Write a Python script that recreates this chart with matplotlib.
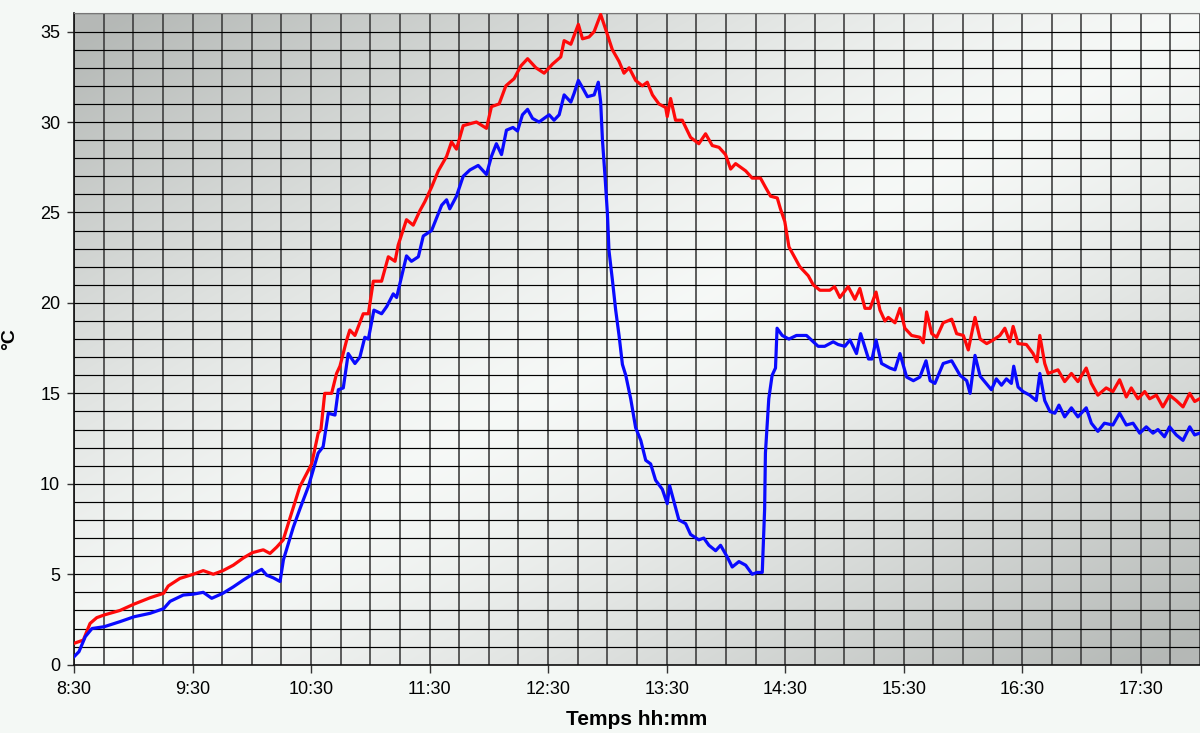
import numpy as np
import matplotlib
matplotlib.use("Agg")
import matplotlib.pyplot as plt

# ---- data (minutes after 8:30, temperature in °C) ----
red_t = [0, 4.7, 8.1, 11.5, 15.3, 23.3, 30.4, 38.5, 45.4, 47.7, 53.6, 60.4, 65.4, 70.5, 75.4,
         80.6, 85.7, 90.4, 95.8, 99.2, 102.6, 105.9, 109.3, 114.3, 120.3, 123.6, 125, 126.9,
         130.4, 132.9, 134.6, 137.9, 139.6, 142.2, 146.4, 149, 151.5, 155.7, 159.1, 162.5,
         164.1, 168.3, 171.7, 175.1, 177.6, 181, 184.4, 188.6, 191.1, 193.6, 197, 203.7,
         208.8, 211.3, 215.2, 218.6, 222.8, 226.2, 229.6, 233.8, 238, 242.2, 246.4, 248.1,
         251.5, 255.3, 257.4, 260.7, 263.3, 266.6, 269.2, 272.5, 275.9, 278.4, 281, 284.3,
         287.7, 290.2, 292.8, 296.1, 299.5, 300.3, 302, 304.5, 307.9, 312.1, 316.3, 319.7,
         323.1, 326.5, 329.8, 332.4, 334.9, 340, 343.3, 347.5, 350, 352.6, 356, 357.6, 359.8,
         361.9, 364.4, 367.4, 371.7, 374.2, 377.6, 382.6, 385, 387.7, 391.9, 395.3, 397.8,
         400.4, 403, 406, 408, 410.5, 412.2, 415.6, 418.1, 420.6, 424, 428.2, 429.9, 431.6,
         434.2, 436.7, 440, 444.3, 446.8, 450.2, 452.7, 456.1, 458.7, 462, 465.3, 468.7,
         471.2, 473.7, 475.4, 477.9, 482.1, 485.5, 487.5, 488.9, 491.4, 493.1, 498.1, 501.5,
         504.9, 508.2, 512.4, 515, 518.3, 522.5, 525.9, 529.3, 532.7, 535.2, 538.6, 542,
         544.5, 547.9, 551.2, 554.6, 558, 561.4, 564.8, 567.3, 569.8]
red_v = [1.18, 1.36, 2.28, 2.6, 2.75, 3.0, 3.35, 3.7, 3.95, 4.35, 4.77, 5.0, 5.2, 5.0, 5.2,
         5.5, 5.9, 6.2, 6.35, 6.15, 6.5, 6.9, 8.1, 9.84, 11.1, 12.8, 13.0, 15.0,
         15.0, 16.1, 16.5, 17.9, 18.5, 18.2, 19.4, 19.4, 21.2, 21.2, 22.55, 22.3,
         23.2, 24.6, 24.3, 25.1, 25.6, 26.4, 27.3, 28.1, 28.9, 28.5, 29.8, 30.0,
         29.65, 30.85, 31.0, 32.0, 32.4, 33.1, 33.5, 33.0, 32.7, 33.2, 33.6, 34.5,
         34.3, 35.4, 34.6, 34.7, 35.0, 35.95, 35.1, 34.0, 33.35, 32.7, 33.0, 32.3,
         32.0, 32.2, 31.5, 31.0, 30.8, 30.3, 31.3, 30.1, 30.1, 29.15, 28.8, 29.35,
         28.7, 28.6, 28.2, 27.4, 27.7, 27.3, 26.9, 26.9, 26.4, 25.9, 25.8, 25.2, 24.5,
         23.1, 22.6, 22.0, 21.5, 21.0, 20.7, 20.7, 20.9, 20.3, 20.9, 20.2, 20.8,
         19.7, 19.7, 20.6, 19.6, 19.0, 19.2, 18.9, 19.7, 18.6, 18.2, 18.1, 17.8, 19.5,
         18.3, 18.1, 18.9, 19.1, 18.3, 18.2, 17.4, 19.2, 18.0, 17.75, 17.95, 18.2,
         18.6, 17.85, 18.7, 17.75, 17.7, 17.2, 16.75, 18.2, 16.65, 16.1, 16.3, 15.65,
         16.1, 15.65, 16.4, 15.55, 14.9, 15.3, 15.1, 15.75, 14.8, 15.3, 14.7, 15.1,
         14.7, 14.9, 14.25, 14.9, 14.6, 14.25, 15.0, 14.55, 14.7]

blue_t = [0, 2.5, 5.7, 9.1, 15.3, 23.3, 30.4, 38.5, 45.4, 48.6, 55.3, 60.4, 65.4, 69.7, 75.4,
          80.6, 85.7, 90.4, 95, 97.5, 100.9, 104.3, 106, 108.5, 111, 114.3, 118.6, 123.6,
          126.1, 128.7, 132.1, 133.8, 136.3, 138.8, 142.2, 144.7, 147.2, 149, 151.8, 155.7,
          158.3, 161.6, 163.3, 168.3, 170.8, 174.3, 176.8, 181, 186.1, 188.6, 190.2, 193.6,
          197, 200.4, 204.6, 208.8, 211.3, 213.8, 216.4, 218.9, 222.2, 224.5, 227, 229.6,
          232.1, 235.4, 240.5, 243, 245.6, 248.1, 251.5, 253.2, 255.3, 257.4, 259.9, 263.3,
          265.4, 266.6, 267.5, 268.8, 270, 270.8, 272.5, 274.2, 275.9, 277.6, 279.3, 281.8,
          284.3, 286.9, 289.4, 291.9, 294.4, 297.8, 300.3, 301.5, 303.7, 306.2, 309.6, 312.1,
          316.3, 318.8, 321.4, 324.8, 327.3, 330.7, 333.2, 336.6, 340, 343.3, 345.8, 348.4,
          349.6, 350, 351.7, 353.4, 355.1, 355.9, 358.5, 361.9, 365.7, 370.8, 374.2, 376.7,
          380, 384.3, 386.8, 390.2, 392.8, 396.1, 398.2, 402.2, 404, 406, 408.8, 413, 415.6,
          418.1, 421.5, 424.9, 428.2, 431.3, 433.4, 435.8, 440, 444.3, 448.5, 451.9, 453.6,
          456.1, 458.7, 461, 464.4, 466.9, 469.5, 472, 474.5, 475.7, 477.9, 480.4, 483.8,
          487.1, 488.9, 491.4, 494, 496.5, 498.6, 501.5, 504.9, 508.2, 512.4, 515, 518.3,
          521.6, 525.9, 529.3, 532.7, 536.1, 539.5, 542.8, 546.2, 548.7, 552, 554.6, 558,
          561.4, 564.8, 567.3, 569.8]
blue_v = [0.44, 0.72, 1.55, 2.0, 2.1, 2.38, 2.65, 2.84, 3.1, 3.5, 3.85, 3.9, 4.0, 3.67, 3.95,
          4.3, 4.68, 5.0, 5.27, 4.95, 4.8, 4.6, 5.8, 6.7, 7.6, 8.6, 9.84, 11.7,
          12.05, 13.9, 13.8, 15.2, 15.3, 17.2, 16.65, 17.0, 18.1, 18.0, 19.6, 19.4,
          19.8, 20.5, 20.3, 22.6, 22.3, 22.55, 23.7, 24.0, 25.4, 25.7, 25.2, 25.9,
          27.0, 27.35, 27.6, 27.1, 28.1, 28.8, 28.2, 29.55, 29.7, 29.5, 30.4, 30.7,
          30.2, 30.0, 30.4, 30.1, 30.4, 31.5, 31.1, 31.6, 32.3, 31.9, 31.4, 31.5,
          32.2, 31.1, 29.0, 27.0, 24.95, 22.9, 21.3, 19.6, 18.2, 16.6, 16.0, 14.7,
          13.1, 12.4, 11.3, 11.1, 10.2, 9.7, 8.9, 9.9, 9.0, 8.0, 7.8, 7.2,
          6.9, 7.0, 6.6, 6.3, 6.6, 5.95, 5.4, 5.7, 5.5, 5.0, 5.1, 5.1,
          8.6, 11.7, 14.7, 16.0, 16.4, 18.6, 18.2, 18.0, 18.2, 18.2, 17.85, 17.6,
          17.6, 17.85, 17.7, 17.6, 17.95, 17.2, 18.3, 16.9, 16.9, 17.95, 16.65, 16.4, 16.3,
          17.2, 15.9, 15.7, 15.9, 16.8, 15.7, 15.55, 16.65, 16.8, 16.0, 15.7, 15.0,
          17.1, 15.95, 15.65, 15.2, 15.8, 15.45, 15.8, 15.55, 16.5, 15.35, 15.1, 14.9,
          14.6, 16.1, 14.6, 14.0, 13.9, 14.35, 13.7, 14.2, 13.7, 14.2, 13.35, 12.9,
          13.35, 13.25, 13.9, 13.25, 13.35, 12.8, 13.15, 12.8, 13.0, 12.6, 13.15, 12.7,
          12.4, 13.15, 12.7, 12.8]

x_tick_labels = ["8:30", "9:30", "10:30", "11:30", "12:30", "13:30", "14:30", "15:30",
                 "16:30", "17:30"]
y_ticks = [0, 5, 10, 15, 20, 25, 30, 35]

START = 8.5  # 8:30 in hours

plt.rcParams['font.family'] = ['Liberation Sans', 'DejaVu Sans']

fig = plt.figure(figsize=(12, 7.33), dpi=100, facecolor='#f4f8f5')
ax = fig.add_axes([0.0617, 0.0932, 0.9383, 0.8884])
ax.set_facecolor('#f4f8f5')

x_end = START + 9.5
# background gradient: dark at top-left and bottom-right, light along the anti-diagonal
nx, ny = 400, 300
u = np.linspace(0, 1, nx)[None, :]
v = np.linspace(1, 0, ny)[:, None]
d = np.clip(np.abs(u - v) * 1.05, 0, 1) ** 1.3
light = np.array([0.965, 0.975, 0.968])
dark = np.array([0.71, 0.725, 0.715])
img = light[None, None, :] * (1 - d[..., None]) + dark[None, None, :] * d[..., None]
ax.imshow(img, extent=[START, x_end, 0, 36], aspect='auto', zorder=0, interpolation='bilinear')

# grid
for k in range(0, 39):
    ax.axvline(START + k * 0.25, color='#3a3a3a', lw=1.15, zorder=1)
for k in range(0, 37):
    ax.axhline(k, color='#000000', lw=0.85, zorder=1)

rx = [START + t / 60 for t in red_t]
bx = [START + t / 60 for t in blue_t]
ax.plot(rx, red_v, color='#ff0a0a', lw=2.3, zorder=3, solid_joinstyle='round')
ax.plot(bx, blue_v, color='#0a0aff', lw=2.3, zorder=3, solid_joinstyle='round')

ax.set_xlim(START, x_end)
ax.set_ylim(0, 36)
ax.set_xticks([START + i for i in range(len(x_tick_labels))])
ax.set_xticklabels(x_tick_labels, fontsize=13)
ax.set_yticks(y_ticks)
ax.set_yticklabels([str(v) for v in y_ticks], fontsize=13)
ax.tick_params(axis='x', length=6, width=1, color='#333333', pad=6)
ax.tick_params(axis='y', length=5, width=1, color='#333333', pad=5)

for s in ['left', 'bottom']:
    ax.spines[s].set_color('#111111')
    ax.spines[s].set_linewidth(1.2)
ax.spines['top'].set_color('#777777')
ax.spines['right'].set_visible(False)

ax.set_xlabel('Temps hh:mm', fontsize=15, fontweight='bold')
ax.xaxis.set_label_coords(0.5, -0.069)
ax.set_ylabel('°C', fontsize=14, fontweight='bold')
ax.yaxis.set_label_coords(-0.05, 0.5)

fig.savefig('out.png', dpi=100, facecolor=fig.get_facecolor())
